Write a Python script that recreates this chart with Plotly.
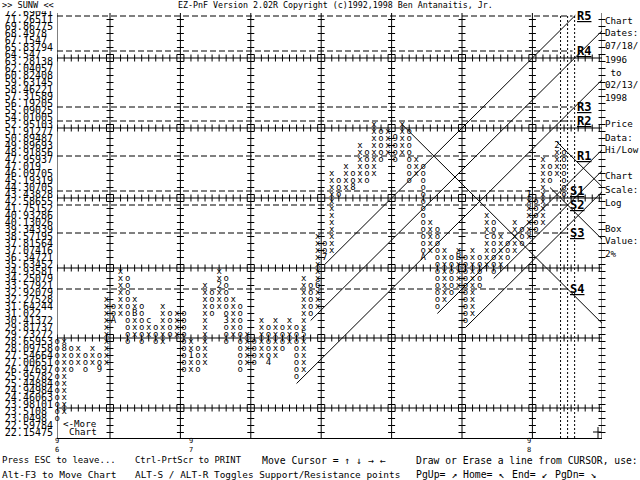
import plotly.graph_objects as go

# ---------------- data ----------------
row_labels = ["22.15475", "22.59784", "23.0498", "23.5108", "23.98101", "24.46063", "24.94984",
              "25.44884", "25.95782", "26.47697", "27.00651", "27.54664", "28.09758", "28.65953",
              "29.23272", "29.81737", "30.41372", "31.022", "31.64244", "32.27528", "32.92079",
              "33.57921", "34.25079", "34.93581", "35.63452", "36.34721", "37.07416", "37.81564",
              "38.57195", "39.34339", "40.13026", "40.93286", "41.75152", "42.58655", "43.43828",
              "44.30705", "45.19319", "46.09705", "47.019", "47.95937", "48.91856", "49.89693",
              "50.89487", "51.91277", "52.95103", "54.01005", "55.09025", "56.19205", "57.31589",
              "58.46221", "59.63145", "60.82408", "62.04057", "63.28138", "64.547", "65.83794",
              "67.1547", "68.4978", "69.86775", "71.26511", "72.69041"]

col_type = ["o", "x"] * 36 + ["o"]
col_low = [2, 3, 9, 10, 9, 10, 9, 10, 16, 17, 13, 14, 13, 14, 13, 13, 14, 14, 9, 9,
           9, 10, 17, 18, 13, 14, 9, 10, 10, 11, 10, 11, 12, 13, 8, 9, 17, 18, 25, 26,
           34, 35, 35, 36, 36, 37, 39, 40, 39, 40, 36, 37, 25, 26, 18, 19, 20, 21, 16, 17,
           21, 24, 23, 24, 25, 26, 27, 28, 29, 30, 36, 37, 34]
col_high = [13, 13, 12, 12, 11, 12, 11, 19, 18, 23, 22, 19, 18, 16, 15, 18, 17, 17, 17, 13,
            12, 21, 20, 23, 22, 19, 18, 14, 13, 16, 15, 16, 15, 16, 15, 22, 21, 28, 27, 37,
            36, 38, 37, 41, 40, 44, 43, 43, 42, 44, 43, 39, 38, 30, 29, 26, 25, 26, 25, 26,
            25, 31, 30, 28, 27, 30, 29, 34, 33, 39, 38, 41, 40]
col_index = list(range(len(col_low)))

month_col = [1, 6, 8, 11, 13, 19, 23, 24, 30, 35, 37, 38, 42, 48, 52, 57, 61, 67, 71]
month_row = [12, 9, 16, 17, 16, 11, 21, 16, 10, 14, 21, 25, 35, 42, 25, 25, 28, 34, 41]
month_char = ["8", "9", "A", "B", "c", "1", "2", "3", "4", "5", "6", "7", "8", "9", "A", "B", "c", "1", "2"]

sr_names = ["R5", "R4", "R3", "R2", "R1", "S1", "S2", "S3", "S4"]
sr_rows = [59.5, 54.5, 46.5, 44.5, 39.5, 34.5, 32.5, 28.5, 20.5]

support_col = [34, 36, 38, 54, 58, 62]
support_row = [7, 16, 24, 17, 15, 22]
resist_col = [49, 71, 70]
resist_row = [44, 41.5, 35]

year_cols = [0, 19, 67]
year_text = ["9<br>6", "9<br>7", "9<br>8"]

marker_cols = [71.5, 72.5, 73.5]

# ---------------- layout geometry ----------------
W, H = 640, 480
ML, MR, MT, MB = 57, 38, 11, 42
X0, DX = 57.2, 7.04
Y0, DY = 432.5, 7.0
xr = [(ML - X0) / DX, (W - MR - X0) / DX]
yr = [(Y0 - (H - MB)) / DY, (Y0 - MT) / DY]
YTOP = (Y0 - 13) / DY
FONT = "DejaVu Sans Mono"


def pxx(px):
    return (px - ML) / (W - ML - MR)


def pxy(py):
    return (H - MB - py) / (H - MT - MB)


fig = go.Figure()
shapes = []

# grid lines every 10 boxes
vgrid = [7.5 + 10 * i for i in range(7)]
hgrid = [3.5 + 10 * i for i in range(6)]
for gx in vgrid:
    shapes.append(dict(type="line", xref="x", yref="y", x0=gx, x1=gx, y0=yr[0], y1=YTOP,
                       line=dict(color="black", width=1), layer="below"))
for gy in hgrid:
    shapes.append(dict(type="line", xref="x", yref="y", x0=xr[0], x1=xr[1], y0=gy, y1=gy,
                       line=dict(color="black", width=1), layer="below"))
# left and right frame lines
for fx in xr:
    shapes.append(dict(type="line", xref="x", yref="y", x0=fx, x1=fx, y0=yr[0], y1=YTOP,
                       line=dict(color="black", width=1), layer="below"))

# dotted marker verticals
for mx in marker_cols:
    shapes.append(dict(type="line", xref="x", yref="y", x0=mx, x1=mx, y0=yr[0], y1=59.5,
                       line=dict(color="black", width=1, dash="2px,2px"), layer="below"))

# support / resistance dashed levels
for name, r in zip(sr_names, sr_rows):
    xend = 73.2 if name.startswith("R") else 72.4
    shapes.append(dict(type="line", xref="x", yref="y", x0=xr[0], x1=xend, y0=r, y1=r,
                       line=dict(color="black", width=1, dash="6px,3px"), layer="below"))

# tick marks along grid lines
tx, ty = [], []
for gy in hgrid:
    for j in range(0, 78):
        tx.append(j); ty.append(gy)
fig.add_trace(go.Scatter(x=tx, y=ty, mode="markers", hoverinfo="skip", showlegend=False,
                         marker=dict(symbol="line-ns", size=5, line=dict(color="black", width=1))))
tx, ty = [], []
for gx in vgrid + [xr[1]]:
    for k in range(0, 60):
        tx.append(gx); ty.append(k)
fig.add_trace(go.Scatter(x=tx, y=ty, mode="markers", hoverinfo="skip", showlegend=False,
                         cliponaxis=False,
                         marker=dict(symbol="line-ew", size=5, line=dict(color="black", width=1))))

# trend lines (45 degree)
lx, ly = [], []
for c, r in zip(support_col, support_row):
    n = min(xr[1] - c, 59.6 - r)
    lx += [c, c + n, None]; ly += [r, r + n, None]
for c, r in zip(resist_col, resist_row):
    n = min(xr[1] - c, r - yr[0])
    lx += [c, c + n, None]; ly += [r, r - n, None]
fig.add_trace(go.Scatter(x=lx, y=ly, mode="lines", hoverinfo="skip", showlegend=False,
                         line=dict(color="black", width=1)))

# X / O columns
marks = {(c, r): ch for c, r, ch in zip(month_col, month_row, month_char)}
cx, cy, ct = [], [], []
for j, t, lo, hi in zip(col_index, col_type, col_low, col_high):
    for k in range(lo, hi + 1):
        cx.append(j); cy.append(k); ct.append(marks.get((j, k), t))
fig.add_trace(go.Scatter(x=cx, y=cy, text=ct, mode="text", textposition="middle center",
                         cliponaxis=False, hoverinfo="skip", showlegend=False,
                         textfont=dict(family=FONT, size=9, color="black")))

annotations = []


def txt(px, py, s, size=9.5, anchor="left"):
    annotations.append(dict(x=pxx(px), y=pxy(py), xref="paper", yref="paper", text=s,
                            showarrow=False, xanchor=anchor, yanchor="middle",
                            font=dict(family=FONT, size=size, color="black")))


# S/R labels
for name, r in zip(sr_names, sr_rows):
    xl = 73.5 if name.startswith("R") else 72.6
    annotations.append(dict(x=xl, y=r, xref="x", yref="y", text="<b><u>" + name + "</u></b>",
                            showarrow=False, xanchor="left", yanchor="middle",
                            font=dict(family=FONT, size=12, color="black")))

# year marks under the axis
for c, s in zip(year_cols, year_text):
    annotations.append(dict(x=c, y=pxy(445.5), xref="x", yref="paper", text=s,
                            showarrow=False, xanchor="center", yanchor="middle",
                            font=dict(family=FONT, size=7, color="black")))

# white strip under the header (top label is cut in the original)
shapes.append(dict(type="rect", xref="paper", yref="paper", x0=pxx(0), x1=pxx(56),
                   y0=pxy(11), y1=pxy(0), fillcolor="white", line=dict(width=0), layer="above"))

# header
txt(0, 5, ">> SUNW <<", 8.6)
txt(176, 5, "EZ-PnF Version 2.02R Copyright (c)1992,1998 Ben Antanaitis, Jr.", 8.3)

# right info panel
panel = ["Chart", "Dates:", "07/18/", "1996", " to", "02/13/", "1998", "Price", "Data:", "Hi/Low",
         "Chart", "Scale:", "Log", "Box", "Value:", "2%"]
panel_y = [20, 33, 46, 59, 72, 85, 97, 124, 137, 149, 175, 189, 202, 228, 241, 254]
for s, py in zip(panel, panel_y):
    txt(603, py, s.replace(" ", "\u00a0"), 9.2)

# more chart
txt(61, 423, "<-More", 9.2)
txt(67, 431, "Chart", 9.2)

# bottom help lines
txt(0, 460, "Press ESC to leave...", 9.0)
txt(133, 460, "Ctrl-PrtScr to PRINT", 8.8)
txt(260, 460, "Move Cursor = \u2191 \u2193 \u2192 \u2190", 9.8)
txt(414, 460, "Draw or Erase a line from CURSOR, use:", 9.7)
txt(0, 474, "Alt-F3 to Move Chart", 9.5)
txt(133, 474, "ALT-S / ALT-R Toggles Support/Resistance points", 9.4)
txt(414, 474, "PgUp= \u2197", 9.8)
txt(461, 474, "Home= \u2196", 9.8)
txt(510, 474, "End= \u2199", 9.8)
txt(553, 474, "PgDn= \u2198", 9.8)

# cursor cross
shapes.append(dict(type="line", xref="paper", yref="paper", x0=pxx(598), x1=pxx(598),
                   y0=pxy(438), y1=pxy(427), line=dict(color="black", width=1)))
shapes.append(dict(type="line", xref="paper", yref="paper", x0=pxx(593), x1=pxx(601),
                   y0=pxy(432), y1=pxy(432), line=dict(color="black", width=1)))

# left-aligned price labels (monospace, padded with no-break spaces)
tick_text = [s + "\u00a0" * (8 - len(s)) for s in row_labels]

fig.update_layout(
    width=W, height=H, margin=dict(l=ML, r=MR, t=MT, b=MB, pad=0, autoexpand=False),
    paper_bgcolor="white", plot_bgcolor="white",
    shapes=shapes, annotations=annotations, showlegend=False,
    xaxis=dict(range=xr, showgrid=False, zeroline=False, showline=True, linecolor="black",
               linewidth=1, mirror=False, showticklabels=False, ticks="", fixedrange=True,
               automargin=False),
    yaxis=dict(range=yr, showgrid=False, zeroline=False, showline=False,
               tickmode="array", tickvals=list(range(len(row_labels))),
               ticktext=tick_text, ticks="", ticklabelstandoff=3, automargin=False,
               tickfont=dict(family=FONT, size=10, color="black"),
               fixedrange=True),
)

fig.write_html("out.html")
